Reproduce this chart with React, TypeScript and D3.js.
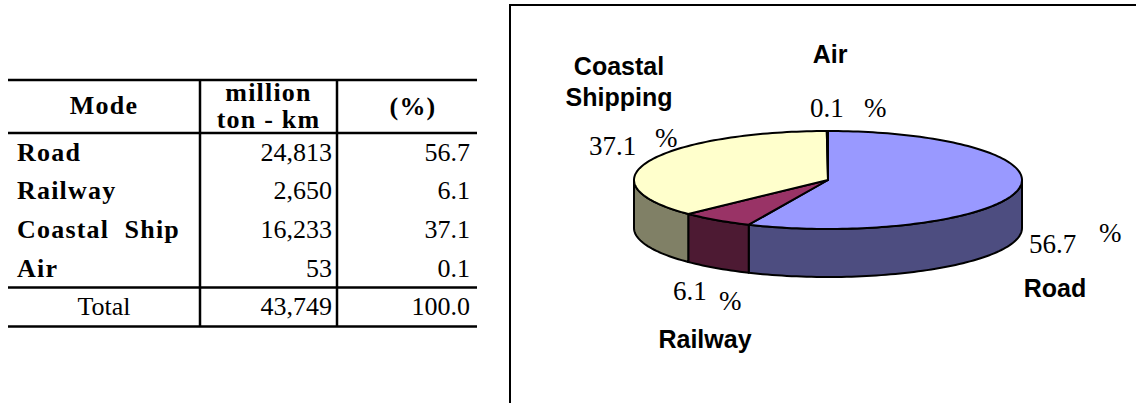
import React from "react";
import * as d3 from "d3";

// Freight transport by mode
const modes = ["Road", "Railway", "Coastal Ship", "Air"];
const tonKm = [24813, 2650, 16233, 53];
const shares = [56.7, 6.1, 37.1, 0.1];
const totalTonKm = 43749;
const totalShare = 100.0;

// Pie labels (name lines) in slice order
const pieNames = [["Road"], ["Railway"], ["Coastal", "Shipping"], ["Air"]];
const topColors = ["#9999FF", "#993366", "#FFFFCC", "#CCFFFF"];
const sideColors = ["#4D4D80", "#4D1A33", "#808066", "#668080"];

const W = 1136;
const H = 403;

const SERIF = "'Liberation Serif', 'Times New Roman', serif";
const SANS = "'Liberation Sans', Arial, sans-serif";

// Table layout
const colX = [8, 200, 337, 477];
const tableTop = 80;
const headerBottom = 133;
const rowH = 38.6;
const bodyBottom = headerBottom + rowH * modes.length;
const tableBottom = bodyBottom + 39;

// Pie layout
const cx = 828;
const cy = 180;
const rx = 194;
const ry = 49;
const depth = 48;

// Label placement for each slice (value text, percent sign, name)
const labelLayout = [
  { vx: 1029, vy: 253, px: 1099, py: 242, nx: 1055, ny: 297 },
  { vx: 673, vy: 300, px: 719, py: 310, nx: 705, ny: 348 },
  { vx: 589, vy: 155, px: 655, py: 147, nx: 619, ny: 75 },
  { vx: 810, vy: 117, px: 864, py: 117, nx: 830, ny: 63 },
];
const nameLineGap = 31;

const pt = (t: number, dy = 0): [number, number] => [
  cx + rx * Math.sin(t),
  cy - ry * Math.cos(t) + dy,
];

const arcPoints = (a: number, b: number, dy = 0) => {
  const n = Math.max(2, Math.ceil(((b - a) / (2 * Math.PI)) * 240));
  return d3.range(n + 1).map((i) => pt(a + ((b - a) * i) / n, dy));
};

const line = d3.line<[number, number]>().curve(d3.curveLinear);

export default function App() {
  const pie = d3
    .pie<number>()
    .sort(null)
    .startAngle(0)
    .endAngle(2 * Math.PI)(shares);

  const fmt = d3.format(",");
  const fmt1 = d3.format(".1f");

  const walls = pie.map((s, i) => {
    const a = Math.max(s.startAngle, Math.PI / 2);
    const b = Math.min(s.endAngle, (3 * Math.PI) / 2);
    if (b <= a) return null;
    const top = arcPoints(a, b);
    const bottom = arcPoints(a, b, depth).reverse();
    return (
      <path
        key={"w" + i}
        d={line([...top, ...bottom]) + "Z"}
        fill={sideColors[i]}
        stroke="#000"
        strokeWidth={2}
        strokeLinejoin="round"
      />
    );
  });

  const tops = pie.map((s, i) => (
    <path
      key={"t" + i}
      d={line([[cx, cy], ...arcPoints(s.startAngle, s.endAngle)]) + "Z"}
      fill={topColors[i]}
      stroke="#000"
      strokeWidth={2}
      strokeLinejoin="round"
    />
  ));

  const rowY = (i: number) => headerBottom + rowH * i + rowH * 0.72;

  return (
    <svg
      width={W}
      height={H}
      style={{ position: "absolute", left: 0, top: 0, background: "#fff" }}
    >
      {/* table */}
      <g fill="#000">
        {[tableTop, headerBottom, bodyBottom, tableBottom].map((y, i) => (
          <line key={"h" + i} x1={colX[0]} x2={colX[3]} y1={y} y2={y} stroke="#000" strokeWidth={2.5} />
        ))}
        {[colX[1], colX[2]].map((x, i) => (
          <line key={"v" + i} x1={x} x2={x} y1={tableTop} y2={tableBottom} stroke="#000" strokeWidth={2.5} />
        ))}
        <g fontFamily={SERIF} fontWeight="bold" fontSize={26} letterSpacing={1.2}>
          <text x={(colX[0] + colX[1]) / 2} y={114} textAnchor="middle">Mode</text>
          <text x={(colX[1] + colX[2]) / 2} y={101} textAnchor="middle">million</text>
          <text x={(colX[1] + colX[2]) / 2} y={128} textAnchor="middle" style={{ whiteSpace: "pre" }}>ton - km</text>
          <text x={(colX[2] + colX[3]) / 2 + 6} y={115} textAnchor="middle">(%)</text>
          {modes.map((m, i) => (
            <text key={m} x={17} y={rowY(i)} style={{ whiteSpace: "pre" }}>
              {m.replace(" ", "  ")}
            </text>
          ))}
        </g>
        <g fontFamily={SERIF} fontSize={26}>
          {tonKm.map((v, i) => (
            <text key={"v" + i} x={colX[2] - 5} y={rowY(i)} textAnchor="end">{fmt(v)}</text>
          ))}
          {shares.map((v, i) => (
            <text key={"s" + i} x={colX[3] - 7} y={rowY(i)} textAnchor="end">{fmt1(v)}</text>
          ))}
          <text x={(colX[0] + colX[1]) / 2} y={bodyBottom + 28} textAnchor="middle">Total</text>
          <text x={colX[2] - 5} y={bodyBottom + 28} textAnchor="end">{fmt(totalTonKm)}</text>
          <text x={colX[3] - 7} y={bodyBottom + 28} textAnchor="end">{fmt1(totalShare)}</text>
        </g>
      </g>

      {/* chart frame */}
      <rect x={510} y={5} width={700} height={460} fill="none" stroke="#000" strokeWidth={2} />

      {/* 3D pie */}
      <g>{walls}</g>
      <g>{tops}</g>

      {/* labels */}
      {pie.map((s, i) => {
        const L = labelLayout[i];
        const names = pieNames[i];
        return (
          <g key={"l" + i}>
            <text x={L.vx} y={L.vy} fontFamily={SERIF} fontSize={27}>
              {fmt1(s.data)}
            </text>
            <text x={L.px} y={L.py} fontFamily={SERIF} fontSize={27}>%</text>
            {names.map((n, j) => (
              <text
                key={n}
                x={L.nx}
                y={L.ny + j * nameLineGap}
                fontFamily={SANS}
                fontWeight="bold"
                fontSize={25}
                textAnchor="middle"
              >
                {n}
              </text>
            ))}
          </g>
        );
      })}
    </svg>
  );
}
